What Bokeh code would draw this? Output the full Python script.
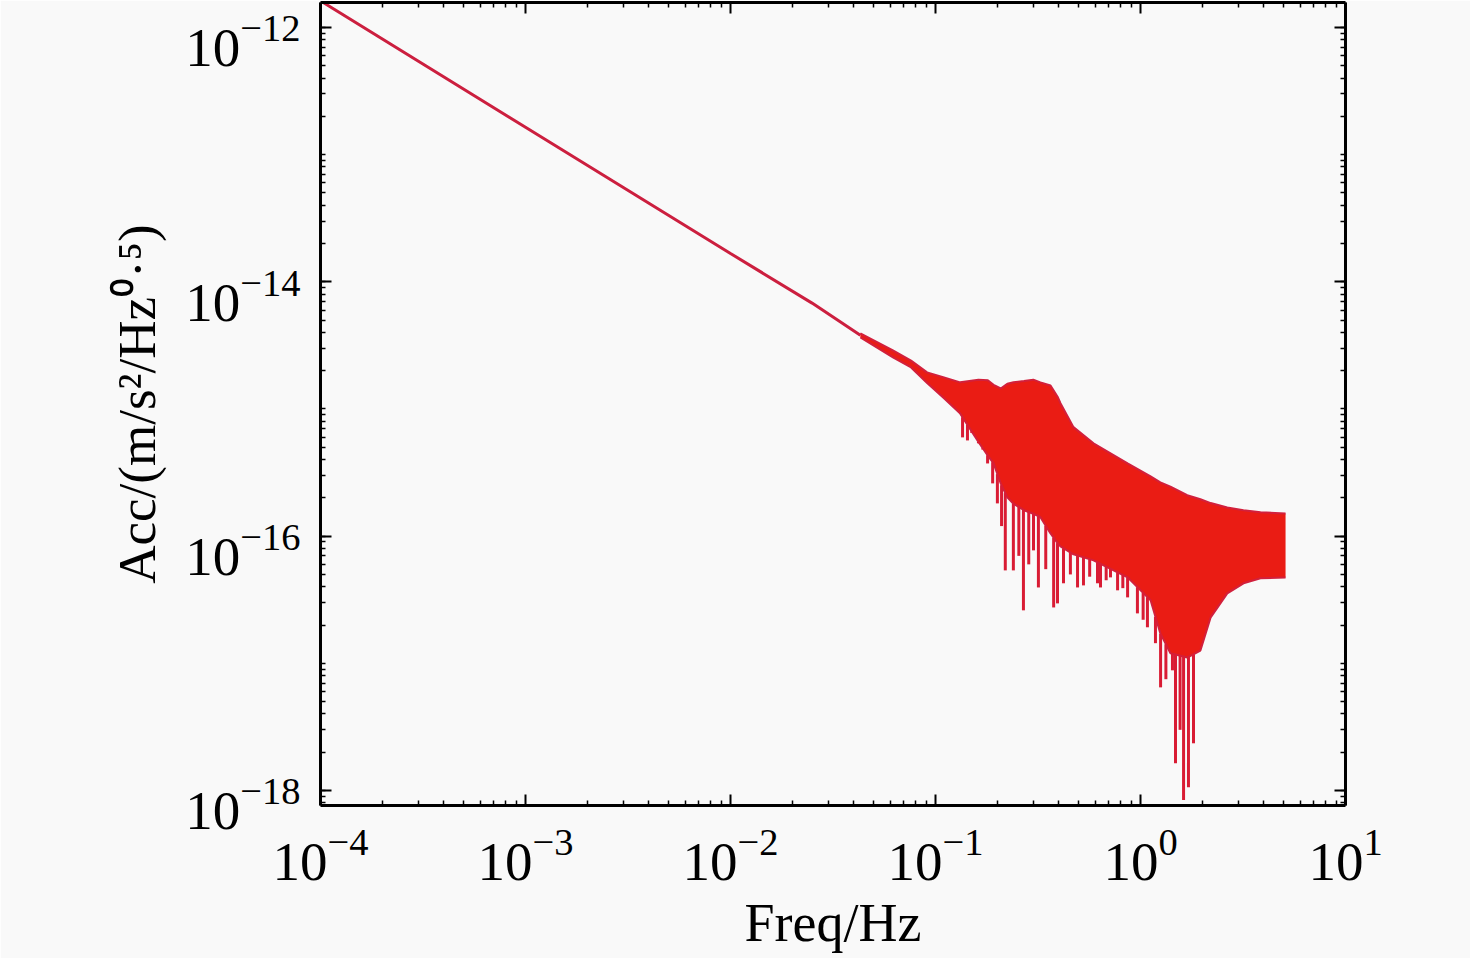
import numpy as np
from bokeh.plotting import figure
from bokeh.models import (Range1d, LogAxis, FixedTicker, CustomJSTickFormatter,
                          LogTickFormatter, LogScale)
from bokeh.embed import file_html
from bokeh.resources import INLINE

# ---------------- data ----------------
lf_freq = [1.0e-4, 1.0e-3, 1.0e-2, 2.5e-2, 4.3e-2]
lf_asd = [1.62e-12, 1.64e-13, 1.67e-14, 6.8e-15, 3.8e-15]

band_freq = [0.043, 0.062, 0.076, 0.091, 0.109, 0.132, 0.162, 0.180, 0.192, 0.208,
             0.224, 0.240, 0.270, 0.300, 0.325, 0.364, 0.394, 0.407, 0.471, 0.590,
             0.865, 1.12, 1.25, 1.40, 1.69, 1.96, 2.20, 2.65, 3.18, 3.85, 5.10]
band_upper = [3.93e-15, 2.89e-15, 2.40e-15, 1.94e-15, 1.78e-15, 1.62e-15, 1.70e-15, 1.68e-15,
              1.55e-15, 1.45e-15, 1.58e-15, 1.62e-15, 1.66e-15, 1.70e-15, 1.62e-15, 1.53e-15,
              1.25e-15, 1.11e-15, 7.2e-16, 5.37e-16, 3.73e-16, 2.95e-16, 2.65e-16, 2.45e-16,
              2.10e-16, 1.95e-16, 1.82e-16, 1.68e-16, 1.60e-16, 1.54e-16, 1.51e-16]
band_lower = [3.66e-15, 2.55e-15, 2.12e-15, 1.60e-15, 1.23e-15, 9.2e-16, 5.5e-16, 4.3e-16,
              3.73e-16, 2.6e-16, 2.02e-16, 1.8e-16, 1.6e-16, 1.5e-16, 1.41e-16, 1.05e-16,
              8.8e-17, 8.3e-17, 7.2e-17, 6.45e-17, 4.74e-17, 3.13e-17, 1.72e-17, 1.20e-17,
              1.11e-17, 1.26e-17, 2.30e-17, 3.55e-17, 4.26e-17, 4.66e-17, 4.74e-17]

dip_freq = [0.1355, 0.1432, 0.150, 0.162, 0.170, 0.1795, 0.190, 0.2004, 0.210, 0.219,
            0.2398, 0.255, 0.2685, 0.285, 0.3006, 0.3177, 0.345, 0.377, 0.3936, 0.421,
            0.455, 0.493, 0.527, 0.565, 0.617, 0.638, 0.680, 0.714, 0.773, 0.820,
            0.865, 0.966, 1.030, 1.081, 1.183, 1.253, 1.330, 1.432, 1.482, 1.560,
            1.622, 1.714, 1.814]
dip_asd = [5.98e-16, 5.66e-16, 6.5e-16, 5.37e-16, 4.8e-16, 3.73e-16, 2.6e-16, 1.81e-16,
           1.2e-16, 5.38e-17, 5.38e-17, 7.0e-17, 2.61e-17, 6.0e-17, 7.73e-17, 3.95e-17,
           5.5e-17, 2.75e-17, 2.96e-17, 4.26e-17, 5.0e-17, 3.95e-17, 4.10e-17, 4.8e-17,
           4.26e-17, 3.95e-17, 4.5e-17, 4.74e-17, 3.75e-17, 3.9e-17, 3.30e-17, 2.47e-17,
           2.2e-17, 1.92e-17, 1.44e-17, 6.47e-18, 7.5e-18, 8.81e-18, 1.64e-18, 3.0e-18,
           8.4e-19, 1.06e-18, 2.35e-18]

x_major = [1e-4, 1e-3, 1e-2, 1e-1, 1e0, 1e1]
x_minor = [k * 10.0 ** n for n in range(-4, 1) for k in range(2, 10)]
y_major = [1e-18, 1e-16, 1e-14, 1e-12]
y_minor = [k * 10.0 ** n for n in range(-19, -11) for k in range(1, 10)]

x_title = "Freq/Hz"
y_title = "Acc/(m/s\u00b2/Hz\u2070\u00b7\u2075)"

# ---------------- styling ----------------
FONT = "Liberation Serif"
BG = "#f9f9f9"
FILL = "#ea1c14"
EDGE = "#d2203c"
LINE = "#cc1f3f"
SPIKE = "#d91c34"
PX_PER_DEC_Y = 127.17      # pixel size of one decade on the y axis
LABEL_SHIFT_PX = 14        # y tick labels sit a little below their tick, as in the reference

p = figure(x_axis_type="log", y_axis_type="log",
           x_range=Range1d(1e-4, 10), y_range=Range1d(7.62e-19, 1.572e-12),
           frame_width=1025, frame_height=803,
           min_border_left=320, min_border_right=125, min_border_top=2, min_border_bottom=153,
           output_backend="svg", toolbar_location=None,
           background_fill_color=BG, border_fill_color=BG)
p.outline_line_color = None
p.xgrid.visible = False
p.ygrid.visible = False

bottom_ax = p.below[0]
left_ax = p.left[0]
top_ax = LogAxis()
right_ax = LogAxis()
p.add_layout(top_ax, "above")
p.add_layout(right_ax, "right")

# axis that only carries the y tick labels and the y title (shifted a little downward)
shift = 10 ** (LABEL_SHIFT_PX / PX_PER_DEC_Y)
p.extra_y_ranges = {"lab": Range1d(7.62e-19 * shift, 1.572e-12 * shift)}
p.extra_y_scales = {"lab": LogScale()}
lab_ax = LogAxis(y_range_name="lab")
p.add_layout(lab_ax, "left")

for ax, (maj, mnr) in [(bottom_ax, (x_major, x_minor)), (top_ax, (x_major, x_minor)),
                       (left_ax, (y_major, y_minor)), (right_ax, (y_major, y_minor))]:
    ax.ticker = FixedTicker(ticks=maj, minor_ticks=mnr)
    ax.axis_line_width = 3
    ax.axis_line_color = "black"
    ax.major_tick_in = 11
    ax.major_tick_out = 0
    ax.minor_tick_in = 5
    ax.minor_tick_out = 0
    ax.major_tick_line_width = 2
    ax.minor_tick_line_width = 1.5
    ax.major_tick_line_color = "black"
    ax.minor_tick_line_color = "black"
    ax.axis_label = None

for ax in (top_ax, right_ax, left_ax):
    ax.formatter = CustomJSTickFormatter(code="return ''")
    ax.major_label_text_font_size = "0px"
    ax.major_label_standoff = 0

# bottom axis: tick labels + title
bottom_ax.formatter = LogTickFormatter()
bottom_ax.major_label_text_font = FONT
bottom_ax.major_label_text_font_size = "55px"
bottom_ax.major_label_text_color = "black"
bottom_ax.major_label_standoff = 24
bottom_ax.axis_label = x_title
bottom_ax.axis_label_text_font = FONT
bottom_ax.axis_label_text_font_size = "54px"
bottom_ax.axis_label_text_font_style = "normal"
bottom_ax.axis_label_text_color = "black"
bottom_ax.axis_label_standoff = 10

# left label axis: tick labels + title
lab_ax.ticker = FixedTicker(ticks=y_major, minor_ticks=[])
lab_ax.formatter = LogTickFormatter()
lab_ax.axis_line_color = None
lab_ax.major_tick_line_color = None
lab_ax.minor_tick_line_color = None
lab_ax.major_tick_in = 0
lab_ax.major_tick_out = 0
lab_ax.minor_tick_in = 0
lab_ax.minor_tick_out = 0
lab_ax.major_label_text_font = FONT
lab_ax.major_label_text_font_size = "55px"
lab_ax.major_label_text_color = "black"
lab_ax.major_label_standoff = 20
lab_ax.axis_label = y_title
lab_ax.axis_label_text_font = FONT
lab_ax.axis_label_text_font_size = "53px"
lab_ax.axis_label_text_font_style = "normal"
lab_ax.axis_label_text_color = "black"
lab_ax.axis_label_standoff = 16

# ---------------- data marks ----------------
p.line(lf_freq, lf_asd, line_color=LINE, line_width=3)
p.varea(x=band_freq, y1=band_lower, y2=band_upper, fill_color=FILL)
p.line(band_freq, band_upper, line_color=EDGE, line_width=2)
p.line(band_freq, band_lower, line_color=EDGE, line_width=2)
lf = np.log10(band_freq)
spike_top = 10 ** np.interp(np.log10(dip_freq), lf, np.log10(band_lower))
p.segment(x0=dip_freq, y0=spike_top, x1=dip_freq, y1=dip_asd,
          line_color=SPIKE, line_width=3)

open("out.html", "w").write(file_html(p, INLINE))
